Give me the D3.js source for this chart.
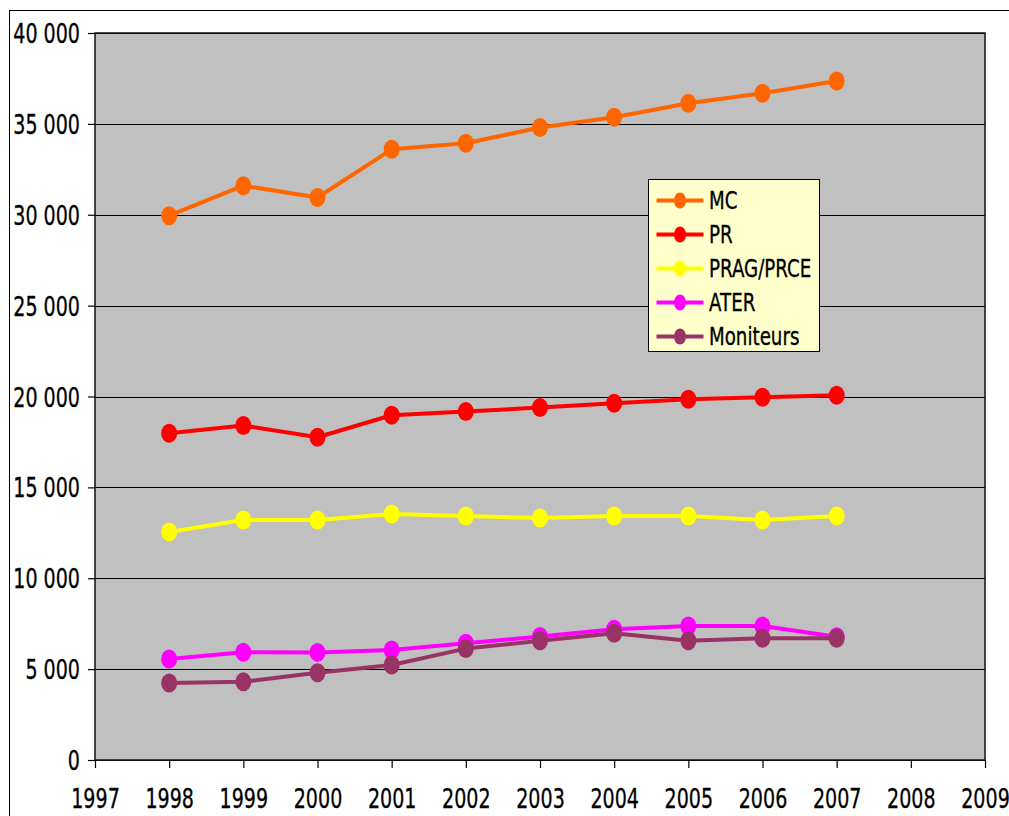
<!DOCTYPE html>
<html>
<head>
<meta charset="utf-8">
<script src="https://cdn.jsdelivr.net/npm/d3@7"></script>
<style>
  body { margin: 0; background: #fff; }
  text { font-family: "DejaVu Sans", sans-serif; fill: #000; stroke: #000; stroke-width: 0.35px; }
</style>
</head>
<body>
<div id="chart"></div>
<script>
// Data
const years = [1998, 1999, 2000, 2001, 2002, 2003, 2004, 2005, 2006, 2007];
const mc = [29950, 31600, 30950, 33600, 33930, 34800, 35360, 36130, 36680, 37360];
const pr = [17980, 18400, 17760, 18970, 19170, 19390, 19630, 19850, 19960, 20070];
const prag = [12550, 13200, 13200, 13540, 13420, 13310, 13420, 13420, 13200, 13420];
const ater = [5560, 5930, 5920, 6050, 6420, 6800, 7200, 7370, 7370, 6780];
const moniteurs = [4240, 4300, 4800, 5230, 6130, 6560, 6970, 6560, 6700, 6700];

const seriesNames = ["MC", "PR", "PRAG/PRCE", "ATER", "Moniteurs"];
const seriesColors = ["#FF6600", "#FF0000", "#FFFF00", "#FF00FF", "#993366"];
const yTicks = [0, 5000, 10000, 15000, 20000, 25000, 30000, 35000, 40000];
const xTicks = [1997, 1998, 1999, 2000, 2001, 2002, 2003, 2004, 2005, 2006, 2007, 2008, 2009];

const WIDTH = 1009;
const HEIGHT = 816;
const PLOT = { left: 95, top: 33, right: 985, bottom: 760 };
const SQUEEZE = 0.72; // narrow the text like the original Tahoma

const svg = d3
  .select("#chart")
  .append("svg")
  .attr("width", WIDTH)
  .attr("height", HEIGHT);

// Outer chart frame (runs off the page on the right and bottom)
svg
  .append("rect")
  .attr("x", 9.5)
  .attr("y", 10.5)
  .attr("width", 1200)
  .attr("height", 1000)
  .attr("fill", "#fff")
  .attr("stroke", "#000")
  .attr("stroke-width", 1);

const x = d3.scaleLinear().domain([1997, 2009]).range([PLOT.left, PLOT.right]);
const y = d3.scaleLinear().domain([0, 40000]).range([PLOT.bottom, PLOT.top]);

// Plot area
svg
  .append("rect")
  .attr("x", PLOT.left)
  .attr("y", PLOT.top)
  .attr("width", PLOT.right - PLOT.left)
  .attr("height", PLOT.bottom - PLOT.top)
  .attr("fill", "#C0C0C0");

// Gridlines
svg
  .append("g")
  .selectAll("line")
  .data(yTicks)
  .enter()
  .append("line")
  .attr("x1", PLOT.left)
  .attr("x2", PLOT.right)
  .attr("y1", (d) => Math.round(y(d)) + 0.5)
  .attr("y2", (d) => Math.round(y(d)) + 0.5)
  .attr("stroke", "#000")
  .attr("stroke-width", 1);

// Plot border
svg
  .append("rect")
  .attr("x", PLOT.left)
  .attr("y", PLOT.top)
  .attr("width", PLOT.right - PLOT.left)
  .attr("height", PLOT.bottom - PLOT.top)
  .attr("fill", "none")
  .attr("stroke", "#111")
  .attr("stroke-width", 1.5);

// Axes
const fr = d3.formatLocale({ decimal: ",", thousands: " ", grouping: [3], currency: ["", ""] });
const yAxis = d3.axisLeft(y).tickValues(yTicks).tickFormat(fr.format(",")).tickSize(7).tickSizeOuter(0);
const xAxis = d3.axisBottom(x).tickValues(xTicks).tickFormat(d3.format("d")).tickSize(8).tickSizeOuter(0);

const gy = svg.append("g").attr("transform", `translate(${PLOT.left},0)`).call(yAxis);
const gx = svg.append("g").attr("transform", `translate(0,${PLOT.bottom})`).call(xAxis);

[gy, gx].forEach((g) => {
  g.select(".domain").remove();
  g.selectAll(".tick line").attr("stroke", "#000").attr("stroke-width", 1.2);
  g.selectAll(".tick text")
    .attr("font-size", "26.5px")
    .attr("font-family", '"DejaVu Sans", sans-serif')
    .attr("fill", "#000")
    .attr("x", 0)
    .attr("y", 0);
});
gy.selectAll(".tick text")
  .attr("dy", "0.36em")
  .attr("transform", `translate(-15,0) scale(${SQUEEZE},1)`);
gx.selectAll(".tick text")
  .attr("dy", 0)
  .attr("transform", `translate(0,48) scale(${SQUEEZE},1)`);

// Series
const allSeries = [mc, pr, prag, ater, moniteurs];
const line = d3
  .line()
  .x((d, i) => x(years[i]))
  .y((d) => y(d));

allSeries.forEach((values, s) => {
  const g = svg.append("g");
  g.append("path")
    .datum(values)
    .attr("d", line)
    .attr("fill", "none")
    .attr("stroke", seriesColors[s])
    .attr("stroke-width", 4)
    .attr("stroke-linejoin", "round");
  g.selectAll("ellipse")
    .data(values)
    .enter()
    .append("ellipse")
    .attr("cx", (d, i) => x(years[i]))
    .attr("cy", (d) => y(d))
    .attr("rx", 8)
    .attr("ry", 9.5)
    .attr("fill", seriesColors[s]);
});

// Legend
const legend = svg.append("g").attr("transform", "translate(648.5,179.5)");
legend
  .append("rect")
  .attr("width", 171)
  .attr("height", 172)
  .attr("fill", "#FFFFCC")
  .attr("stroke", "#000")
  .attr("stroke-width", 1);

const item = legend
  .selectAll(".item")
  .data(seriesNames)
  .enter()
  .append("g")
  .attr("transform", (d, i) => `translate(0,${21 + i * 34})`);

item
  .append("line")
  .attr("x1", 8)
  .attr("x2", 55)
  .attr("stroke", (d, i) => seriesColors[i])
  .attr("stroke-width", 4);

item
  .append("ellipse")
  .attr("cx", 31.5)
  .attr("rx", 6)
  .attr("ry", 8)
  .attr("fill", (d, i) => seriesColors[i]);

item
  .append("text")
  .attr("dy", "0.36em")
  .attr("font-size", "24px")
  .attr("transform", "translate(60.5,0) scale(0.76,1)")
  .text((d) => d);
</script>
</body>
</html>
